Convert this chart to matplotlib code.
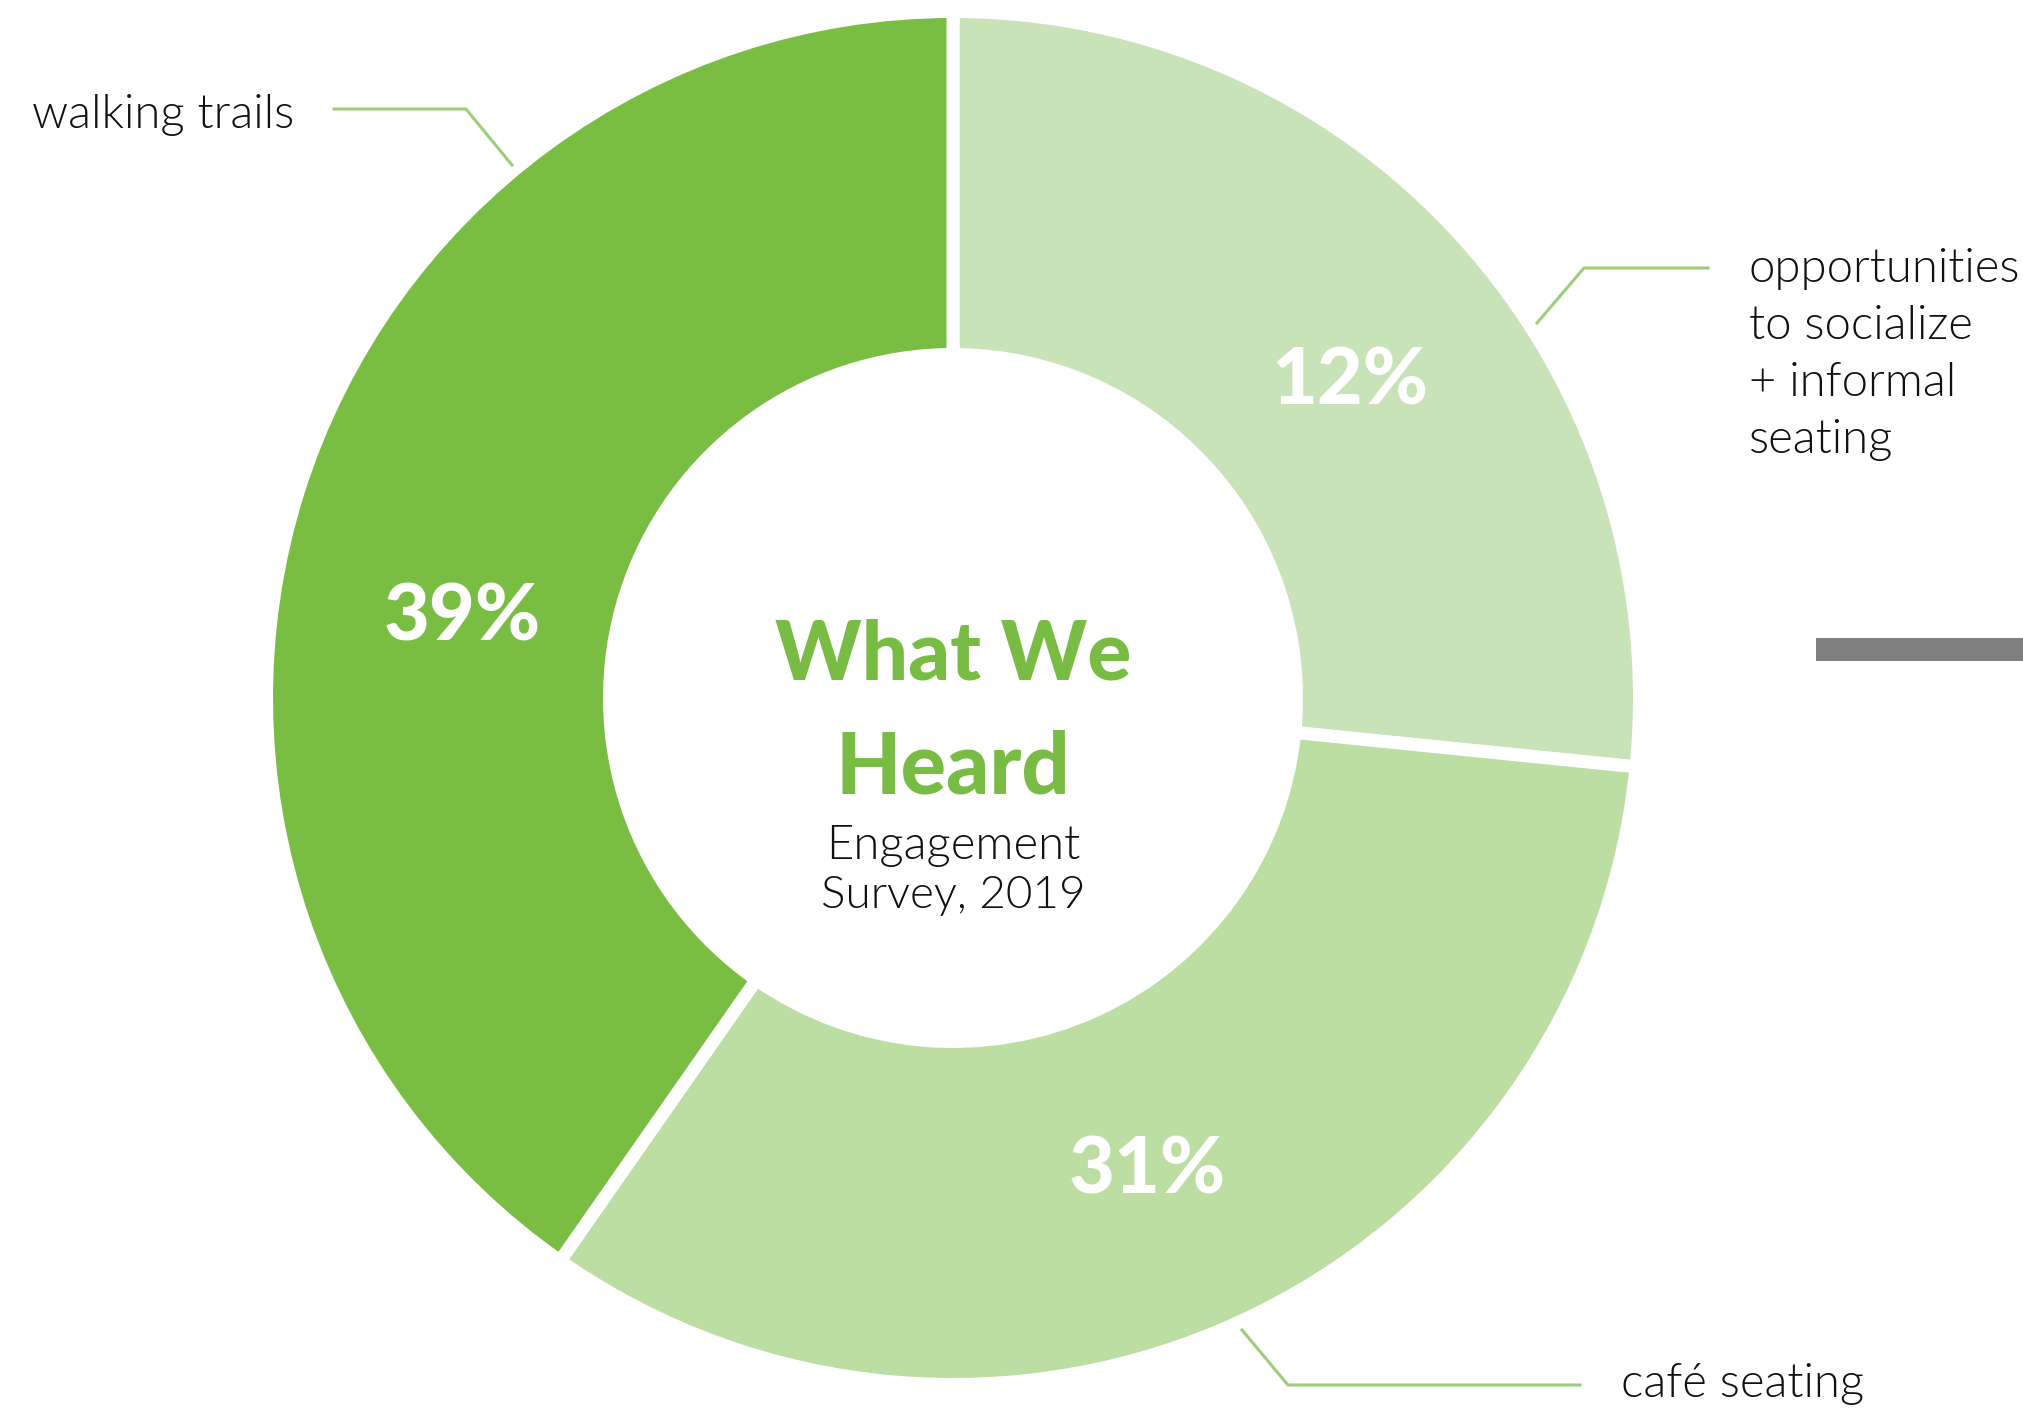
import numpy as np
import matplotlib.pyplot as plt
from matplotlib.patches import Rectangle

W, H = 2024, 1411

# survey answers, clockwise from 12 o'clock
categories = ["opportunities\nto socialize\n+ informal\nseating", "café seating", "walking trails"]
percent = [12, 31, 39]
# ring share each wedge takes in the drawing (%)
shares = [26.6, 33.1, 40.3]
colors = ["#C8E3B7", "#BCDEA2", "#79BD43"]

title = "What We\nHeard"
subtitle = ["Engagement", "Survey, 2019"]

plt.rcParams['font.family'] = ['Lato', 'DejaVu Sans']

fig = plt.figure(figsize=(W / 100, H / 100), dpi=100)
ax = fig.add_axes([0, 0, 1, 1])


def Y(y):
    # pixel rows from the top
    return H - y


cx, cy = 953, Y(698)
r_out, r_in, gap = 680, 350, 13
lw = gap * 72 / 100

wedges, _ = ax.pie(
    shares,
    startangle=90,
    counterclock=False,
    colors=colors,
    radius=r_out + gap / 2,
    center=(cx, cy),
    wedgeprops=dict(width=r_out - r_in + gap, edgecolor="white",
                    linewidth=lw, joinstyle="miter"),
)
ax.set_xlim(0, W)
ax.set_ylim(0, H)
ax.set_aspect("equal")
ax.axis("off")

# percentage labels inside the ring
nudge = [-3, -2, 7.5]
lab_r = [511, 505, 498]
for w, p, dn, rr in zip(wedges, percent, nudge, lab_r):
    a = np.deg2rad((w.theta1 + w.theta2) / 2 + dn)
    ax.text(cx + rr * np.cos(a), cy + rr * np.sin(a) - 29, f"{p}%",
            ha="center", va="baseline", color="white",
            fontsize=57, fontweight="black")

# centre text
t1, t2 = title.split("\n")
ax.text(cx, Y(680), t1, ha="center", va="baseline", color="#78BC43",
        fontsize=59, fontweight="black")
ax.text(cx, Y(793), t2, ha="center", va="baseline", color="#78BC43",
        fontsize=61, fontweight="black")
ax.text(cx, Y(859), subtitle[0], ha="center", va="baseline", color="#111111",
        fontsize=34, fontweight=300)
ax.text(cx, Y(908), subtitle[1], ha="center", va="baseline", color="#111111",
        fontsize=33, fontweight=300)

# leader lines
lead = "#9DCE7C"
ax.plot([1708, 1584, 1537], [Y(268), Y(268), Y(323)], color=lead, lw=2.2)
ax.plot([1242, 1288, 1580], [Y(1330), Y(1385), Y(1385)], color=lead, lw=2.2)
ax.plot([334, 466, 512], [Y(109), Y(109), Y(165)], color=lead, lw=2.2)

# category labels
for i, line in enumerate(categories[0].split("\n")):
    ax.text(1749, Y(282 + i * 57), line, ha="left", va="baseline",
            color="#111111", fontsize=34, fontweight=300)
ax.text(1621, Y(1397), categories[1], ha="left", va="baseline",
        color="#111111", fontsize=34, fontweight=300)
ax.text(32, Y(128), categories[2], ha="left", va="baseline",
        color="#111111", fontsize=34, fontweight=300)

# grey bar cut by the right edge
ax.add_patch(Rectangle((1816, Y(661)), W - 1816, 23, color="#808080", lw=0))

fig.savefig("out.png", dpi=100, facecolor="white")
